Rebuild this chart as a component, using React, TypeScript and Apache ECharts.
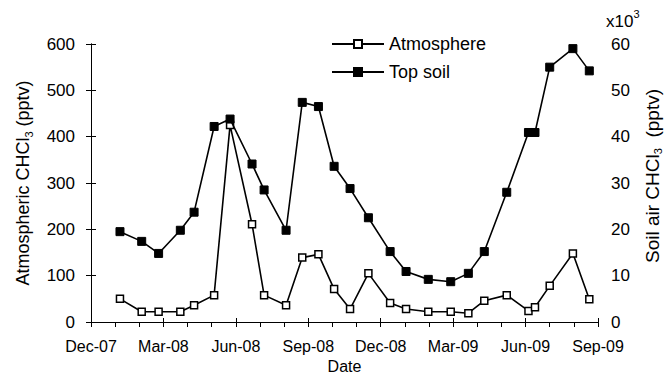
import React, { useEffect, useRef } from "react";
import * as echarts from "echarts";

// Month index counted from Dec-07 (0) to Sep-09 (21)
const tickLabels = ["Dec-07", "Mar-08", "Jun-08", "Sep-08", "Dec-08", "Mar-09", "Jun-09", "Sep-09"];
const sampleMonths = [1.2, 2.1, 2.8, 3.7, 4.27, 5.1, 5.76, 6.67, 7.17, 8.08, 8.75, 9.42, 10.07, 10.73, 11.49, 12.39, 13.05, 13.97, 14.9, 15.63, 16.29, 17.22, 18.12, 18.39, 19.0, 19.96, 20.64];
const atmosphere = [50, 22, 22, 22, 36, 58, 425, 211, 58, 36, 139, 146, 71, 28, 105, 41, 28, 22, 22, 19, 46, 58, 24, 32, 78, 148, 49];
const topSoil = [19.5, 17.4, 14.8, 19.8, 23.7, 42.2, 43.8, 34.1, 28.5, 19.8, 47.4, 46.5, 33.6, 28.8, 22.5, 15.2, 10.9, 9.2, 8.7, 10.5, 15.2, 28.0, 40.9, 40.9, 55.0, 59.0, 54.2];

const FONT = "Arial, 'Liberation Sans', sans-serif";

export default function App() {
  const ref = useRef<HTMLDivElement>(null);
  useEffect(() => {
    const chart = echarts.init(ref.current!, null, { renderer: "svg" });
    const axisLine = { show: true, lineStyle: { color: "#000", width: 1 } };
    const titleRich = {
      a: { fontSize: 18, fontFamily: FONT, color: "#000", lineHeight: 22 },
      s: { fontSize: 11, fontFamily: FONT, color: "#000", lineHeight: 22, verticalAlign: "bottom" },
    };
    chart.setOption({
      animation: false,
      backgroundColor: "#fff",
      grid: { left: 91, right: 72, top: 44, bottom: 54, containLabel: false, outerBoundsMode: "none" },
      legend: {
        orient: "vertical",
        left: 326,
        top: 30,
        itemGap: 10,
        itemWidth: 52,
        itemHeight: 10,
        textStyle: { color: "#000", fontSize: 18, fontFamily: FONT },
        data: ["Atmosphere", "Top soil"],
      },
      xAxis: [
        {
          type: "value",
          min: 0,
          max: 21,
          interval: 3,
          axisLine,
          splitLine: { show: false },
          axisTick: { show: true, length: 5, lineStyle: { color: "#000" } },
          minorTick: { show: true, splitNumber: 3, length: 5, lineStyle: { color: "#000" } },
          axisLabel: {
            color: "#000",
            fontSize: 16,
            fontFamily: FONT,
            margin: 16,
            formatter: (v: number) => tickLabels[Math.round(v / 3)] ?? "",
          },
          name: "Date",
          nameLocation: "middle",
          nameGap: 36,
          nameTextStyle: { color: "#000", fontSize: 16, fontFamily: FONT },
        },
        {
          type: "value",
          position: "bottom",
          min: 0,
          max: 21,
          interval: 3,
          axisLine: { show: false },
          splitLine: { show: false },
          axisTick: { show: true, inside: true, length: 4, lineStyle: { color: "#000" } },
          axisLabel: { show: false },
        },
      ],
      yAxis: [
        {
          type: "value",
          min: 0,
          max: 600,
          interval: 100,
          axisLine,
          splitLine: { show: false },
          axisTick: { show: true, length: 5, lineStyle: { color: "#000" } },
          axisLabel: { color: "#000", fontSize: 17, fontFamily: FONT, margin: 16 },
          name: "{a|Atmospheric CHCl}{s|3}{a| (pptv)}",
          nameLocation: "middle",
          nameRotate: 90,
          nameGap: 57,
          nameTextStyle: { rich: titleRich },
        },
        {
          type: "value",
          position: "right",
          min: 0,
          max: 60,
          interval: 10,
          axisLine,
          splitLine: { show: false },
          axisTick: { show: true, length: 5, lineStyle: { color: "#000" } },
          axisLabel: { color: "#000", fontSize: 17, fontFamily: FONT, margin: 13 },
        },
      ],
      graphic: [
        {
          type: "text",
          left: 606,
          top: 8,
          style: {
            text: "{a|x10}{p|3}",
            rich: {
              a: { fontSize: 17, fontFamily: FONT, fill: "#000", lineHeight: 22, verticalAlign: "bottom" },
              p: { fontSize: 11, fontFamily: FONT, fill: "#000", lineHeight: 22, verticalAlign: "top" },
            },
          },
        },
        {
          type: "text",
          x: 652,
          y: 176,
          rotation: Math.PI / 2,
          style: {
            text: "{a|Soil air CHCl}{s|3}{a|  (pptv)}",
            align: "center",
            verticalAlign: "middle",
            rich: {
              a: { fontSize: 19, fontFamily: FONT, fill: "#000", lineHeight: 22 },
              s: { fontSize: 11, fontFamily: FONT, fill: "#000", lineHeight: 22, verticalAlign: "bottom" },
            },
          },
        },
      ],
      series: [
        {
          name: "Atmosphere",
          type: "line",
          xAxisIndex: 0,
          yAxisIndex: 0,
          data: sampleMonths.map((m, i) => [m, atmosphere[i]]),
          symbol: "rect",
          symbolSize: 7,
          lineStyle: { color: "#000", width: 1.6 },
          itemStyle: { color: "#fff", borderColor: "#000", borderWidth: 1.5 },
          z: 2,
        },
        {
          name: "Top soil",
          type: "line",
          xAxisIndex: 0,
          yAxisIndex: 1,
          data: sampleMonths.map((m, i) => [m, topSoil[i]]),
          symbol: "rect",
          symbolSize: 8,
          lineStyle: { color: "#000", width: 1.6 },
          itemStyle: { color: "#000", borderColor: "#000", borderWidth: 1 },
          z: 3,
        },
      ],
    });
    return () => chart.dispose();
  }, []);
  return <div ref={ref} style={{ position: "absolute", left: 0, top: 0, width: 670, height: 376 }} />;
}
